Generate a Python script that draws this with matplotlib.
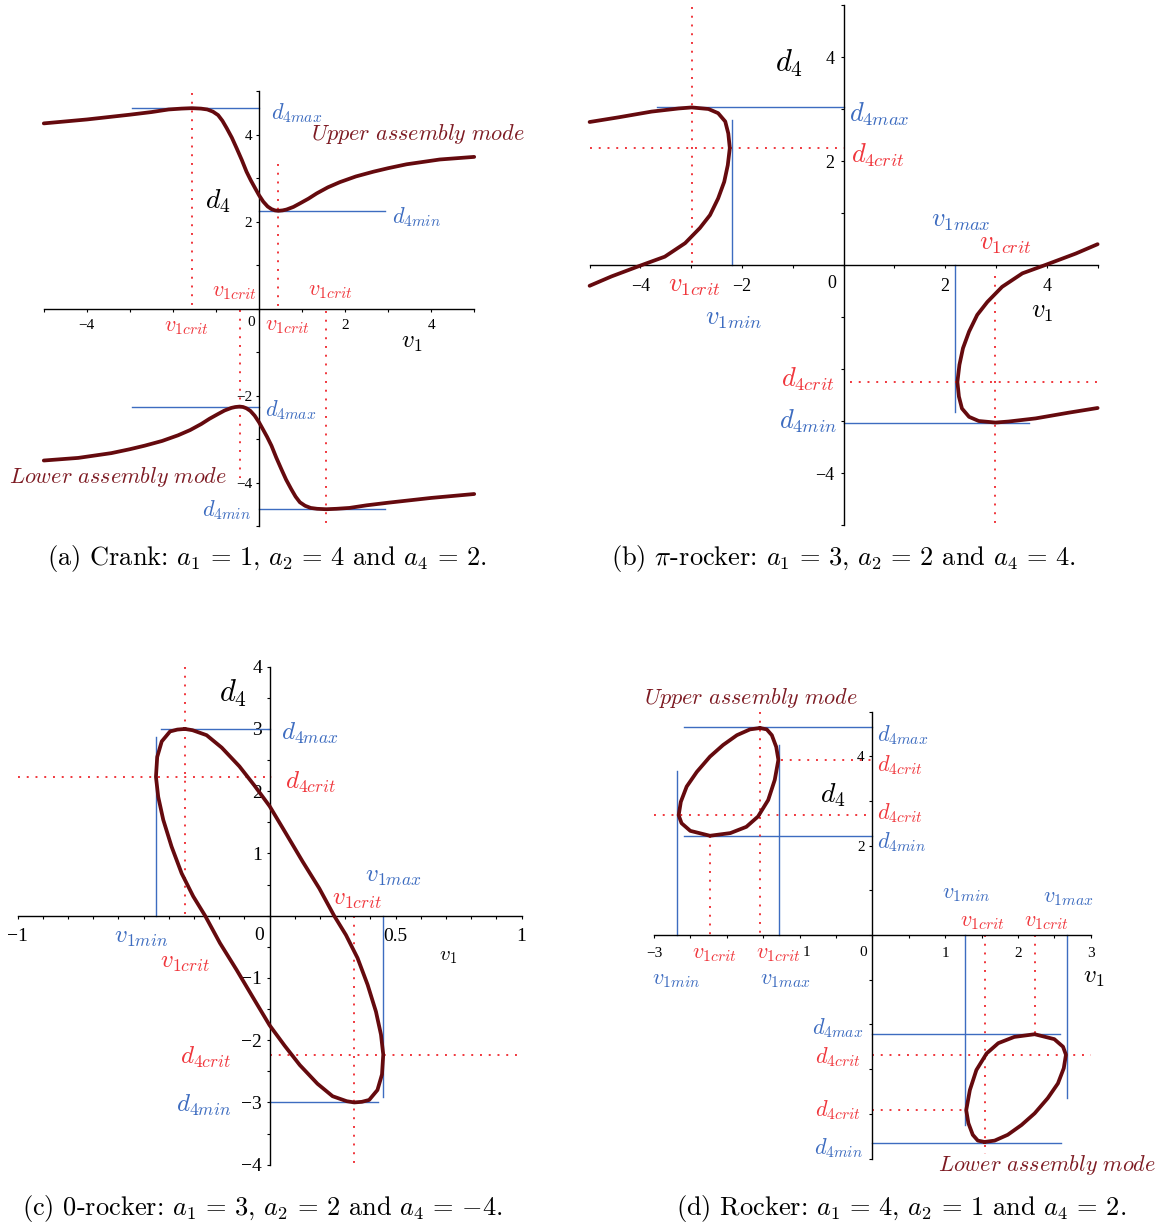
import matplotlib.pyplot as plt

plt.rcParams['mathtext.fontset'] = 'cm'
plt.rcParams['font.family'] = ['Liberation Serif', 'DejaVu Serif']

CURVE = '#650a0e'
MODE = '#7d1a22'
BLUE = '#3d6cc0'
RED = '#f0363c'
W, H = 1168, 1228

# ---- (a) crank: a1=1, a2=4, a4=2 ----
a_up_v = [-5, -4, -3, -2.5, -2.1, -1.8, -1.56, -1.35, -1.2, -1.07, -0.95, -0.85, -0.75, -0.63,
          -0.52, -0.4, -0.29, -0.19, -0.09, 0.0, 0.1, 0.2, 0.29, 0.37, 0.45, 0.55, 0.64, 0.8,
          0.95, 1.15, 1.34, 1.6, 1.88, 2.25, 2.66, 3.0, 3.43, 4.2, 5]
a_up_d = [4.26, 4.35, 4.46, 4.52, 4.58, 4.60, 4.61, 4.60, 4.58, 4.53, 4.45, 4.32, 4.15, 3.93,
          3.69, 3.42, 3.15, 2.95, 2.77, 2.61, 2.46, 2.35, 2.29, 2.26, 2.25, 2.26, 2.28, 2.34,
          2.42, 2.53, 2.65, 2.79, 2.91, 3.04, 3.15, 3.23, 3.32, 3.43, 3.49]
a_lo_v = [-5, -4.2, -3.43, -3.0, -2.66, -2.25, -1.88, -1.6, -1.34, -1.15, -0.95, -0.8, -0.64,
          -0.55, -0.45, -0.37, -0.29, -0.2, -0.1, 0.0, 0.09, 0.19, 0.29, 0.4, 0.52, 0.63, 0.75,
          0.85, 0.95, 1.07, 1.2, 1.35, 1.56, 1.8, 2.1, 2.5, 3, 4, 5]
a_lo_d = [-3.49, -3.43, -3.32, -3.23, -3.15, -3.04, -2.91, -2.79, -2.65, -2.53, -2.42, -2.34,
          -2.28, -2.26, -2.25, -2.26, -2.29, -2.35, -2.46, -2.61, -2.77, -2.95, -3.15, -3.42,
          -3.69, -3.93, -4.15, -4.32, -4.45, -4.53, -4.58, -4.60, -4.61, -4.60, -4.58, -4.52,
          -4.46, -4.35, -4.26]
# guide lines: (level, from, to)
a_dblue = [(4.61, -2.94, 0), (2.25, 0, 2.93), (-2.25, -2.94, 0), (-4.61, 0, 2.93)]
a_vred = [(-1.56, 4.95, 0), (0.45, 3.33, 0), (-0.45, -0.03, -3.9), (1.56, -0.05, -5)]

# ---- (b) pi-rocker: a1=3, a2=2, a4=4 ----
b_left_v = [-5.0, -4.43, -3.78, -3.25, -2.99, -2.66, -2.47, -2.33, -2.27, -2.24, -2.28, -2.35,
            -2.47, -2.63, -2.83, -3.12, -3.52, -3.97, -4.57, -5.0]
b_left_d = [2.75, 2.84, 2.95, 3.01, 3.03, 3.0, 2.92, 2.76, 2.53, 2.25, 1.92, 1.60, 1.28, 0.96,
            0.71, 0.42, 0.16, 0.0, -0.22, -0.40]
b_right_v = [5.0, 4.57, 3.97, 3.52, 3.12, 2.83, 2.63, 2.47, 2.35, 2.28, 2.24, 2.27, 2.33, 2.47,
             2.66, 2.99, 3.25, 3.78, 4.43, 5.0]
b_right_d = [0.40, 0.22, 0.0, -0.16, -0.42, -0.71, -0.96, -1.28, -1.60, -1.92, -2.25, -2.53,
             -2.76, -2.92, -3.0, -3.03, -3.01, -2.95, -2.84, -2.75]
b_dblue = [(3.04, -3.68, 0), (-3.04, 0, 3.64)]
b_vblue = [(-2.20, 2.79, 0), (2.20, 0, -2.82)]
b_dred = [(2.25, -5, 0), (-2.25, 0.13, 5)]
b_vred = [(-2.99, 4.97, 0), (2.99, -0.22, -5)]

# ---- (c) 0-rocker: a1=3, a2=2, a4=-4 ----
c_v = [-0.336, -0.306, -0.250, -0.190, -0.120, -0.060, 0.0, 0.065, 0.131, 0.197, 0.256, 0.303,
       0.349, 0.389, 0.422, 0.442, 0.451, 0.446, 0.428, 0.395, 0.366, 0.336, 0.306, 0.250, 0.190,
       0.120, 0.060, 0.0, -0.065, -0.131, -0.197, -0.256, -0.303, -0.349, -0.389, -0.422, -0.442,
       -0.451, -0.446, -0.428, -0.395, -0.366, -0.336]
c_d = [3.00, 2.98, 2.90, 2.70, 2.40, 2.09, 1.76, 1.32, 0.87, 0.44, 0.0, -0.31, -0.68, -1.11,
       -1.54, -1.91, -2.23, -2.55, -2.80, -2.96, -2.99, -3.00, -2.98, -2.90, -2.70, -2.40, -2.09,
       -1.76, -1.32, -0.87, -0.44, 0.0, 0.31, 0.68, 1.11, 1.54, 1.91, 2.23, 2.55, 2.80, 2.96,
       2.99, 3.00]
c_dblue = [(3.0, -0.43, 0), (-3.0, 0, 0.43)]
c_vblue = [(-0.451, 2.87, 0), (0.451, 0, -2.91)]
c_dred = [(2.23, -1, 0.01), (-2.23, 0, 1)]
c_vred = [(-0.336, 4, 0), (0.336, 0, -4)]

# ---- (d) rocker: a1=4, a2=1, a4=2 ----
d_up_v = [-1.543, -1.68, -1.86, -2.05, -2.23, -2.41, -2.55, -2.63, -2.66, -2.62, -2.50, -2.23,
          -1.95, -1.73, -1.57, -1.43, -1.34, -1.29, -1.32, -1.38, -1.45, -1.543]
d_up_d = [4.63, 4.60, 4.47, 4.25, 3.99, 3.65, 3.32, 2.98, 2.68, 2.50, 2.33, 2.22, 2.28, 2.42,
          2.65, 3.02, 3.47, 3.92, 4.21, 4.47, 4.60, 4.63]
d_lo_v = [1.543, 1.68, 1.86, 2.05, 2.23, 2.41, 2.55, 2.63, 2.66, 2.62, 2.50, 2.23, 1.95, 1.73,
          1.57, 1.43, 1.34, 1.29, 1.32, 1.38, 1.45, 1.543]
d_lo_d = [-4.63, -4.60, -4.47, -4.25, -3.99, -3.65, -3.32, -2.98, -2.68, -2.50, -2.33, -2.22,
          -2.28, -2.42, -2.65, -3.02, -3.47, -3.92, -4.21, -4.47, -4.60, -4.63]
d_dblue = [(4.65, -2.58, 0), (2.22, -2.58, 0), (-2.22, 0, 2.58), (-4.65, 0, 2.59)]
d_vblue = [(-2.68, 3.66, 0), (-1.28, 4.25, 0), (1.28, 0, -4.25), (2.68, 0, -3.64)]
d_dred = [(3.92, -1.25, 0), (2.68, -3, 0), (-2.68, 0, 3.0), (-3.92, 0, 1.28)]
d_vred = [(-1.543, 5, 0), (-2.23, 2.22, 0), (1.543, 0, -4.9), (2.23, 0, -2.22)]

fig = plt.figure(figsize=(W / 100, H / 100), dpi=100)


def panel(x0, x1, top, bottom, xlim, ylim):
    ax = fig.add_axes([x0 / W, 1 - bottom / H, (x1 - x0) / W, (bottom - top) / H])
    ax.set_xlim(*xlim)
    ax.set_ylim(*ylim)
    ax.patch.set_alpha(0)
    for s in ['top', 'right']:
        ax.spines[s].set_visible(False)
    for s in ['left', 'bottom']:
        ax.spines[s].set_position(('data', 0))
        ax.spines[s].set_linewidth(1.0)
    return ax


def ticks(ax, xt, xlab, yt, ylab, size, xpad, ypad):
    ax.set_xticks(xt, labels=[xlab.get(round(t, 2), '') for t in xt])
    ax.set_yticks(yt, labels=[ylab.get(round(t, 2), '') for t in yt])
    ax.tick_params(direction='out', length=2.5, width=0.8, labelsize=size)
    ax.tick_params(axis='x', pad=xpad)
    ax.tick_params(axis='y', pad=ypad)


def guides(ax, dblue=(), vblue=(), dred=(), vred=()):
    for y, a, b in dblue:
        ax.plot([a, b], [y, y], color=BLUE, lw=1.0, clip_on=False)
    for x, a, b in vblue:
        ax.plot([x, x], [a, b], color=BLUE, lw=1.0, clip_on=False)
    for y, a, b in dred:
        ax.plot([a, b], [y, y], color=RED, lw=1.4, ls=(0, (1, 3.5)), clip_on=False)
    for x, a, b in vred:
        ax.plot([x, x], [a, b], color=RED, lw=1.4, ls=(0, (1, 3.5)), clip_on=False)


def curve(ax, v, d):
    ax.plot(v, d, color=CURVE, lw=2.7, solid_joinstyle='round', solid_capstyle='round',
            zorder=4, clip_on=False)


def put(x, y, s, color='black', size=16, ha='center'):
    fig.text(x / W, 1 - y / H, s, color=color, fontsize=size, ha=ha, va='center')


def caption(x, y, s):
    fig.text(x / W, 1 - y / H, s, fontsize=19, ha='center', va='center', family='cmr10')


# (a)
ax = panel(43.8, 474.2, 91.2, 526.2, (-5, 5), (-5, 5))
ticks(ax, list(range(-5, 6)), {-4: '−4', 2: '2', 4: '4'},
      list(range(-5, 6)), {4: '4', 2: '2', -2: '−2', -4: '−4'}, 11, 5, 2.5)
guides(ax, dblue=a_dblue, vred=a_vred)
curve(ax, a_up_v, a_up_d)
curve(ax, a_lo_v, a_lo_d)
put(251, 323, '0', size=11)
put(297, 113, r'$d_{4max}$', BLUE)
put(417, 217, r'$d_{4min}$', BLUE)
put(291, 410, r'$d_{4max}$', BLUE)
put(227, 510, r'$d_{4min}$', BLUE)
put(186, 328, r'$v_{1crit}$', RED)
put(234, 293, r'$v_{1crit}$', RED)
put(287, 327, r'$v_{1crit}$', RED)
put(330, 292, r'$v_{1crit}$', RED)
put(218, 201, r'$d_4$', size=20)
put(412, 343, r'$v_1$', size=18)
put(418, 134, r'$\mathit{Upper\ assembly\ mode}$', MODE, 16)
put(118, 477, r'$\mathit{Lower\ assembly\ mode}$', MODE, 16)
caption(267, 559, r'(a) Crank: $a_1\,=\,1$, $a_2\,=\,4$ and $a_4\,=\,2$.')

# (b)
ax = panel(589.6, 1097.6, 5, 525, (-5, 5), (-5, 5))
ticks(ax, list(range(-5, 6)), {-4: '−4', -2: '−2', 2: '2', 4: '4'},
      list(range(-5, 6)), {4: '4', 2: '2', -4: '−4'}, 13, 7, 4)
guides(ax, b_dblue, b_vblue, b_dred, b_vred)
curve(ax, b_left_v, b_left_d)
curve(ax, b_right_v, b_right_d)
put(832, 283, '0', size=13)
put(879, 114, r'$d_{4max}$', BLUE, 19)
put(878, 155, r'$d_{4crit}$', RED, 19)
put(961, 222, r'$v_{1max}$', BLUE, 19)
put(1005, 245, r'$v_{1crit}$', RED, 19)
put(694, 287, r'$v_{1crit}$', RED, 19)
put(734, 320, r'$v_{1min}$', BLUE, 19)
put(808, 379, r'$d_{4crit}$', RED, 19)
put(808, 421, r'$d_{4min}$', BLUE, 19)
put(789, 63, r'$d_4$', size=22)
put(1042, 313, r'$v_1$', size=19)
caption(843, 559, r'(b) $\pi$-rocker: $a_1\,=\,3$, $a_2\,=\,2$ and $a_4\,=\,4$.')

# (c)
ax = panel(17.6, 521.6, 666.7, 1164.7, (-1, 1), (-4, 4))
ticks(ax, [i / 10 for i in range(-10, 11)], {-1.0: '−1', 0.5: '0.5', 1.0: '1'},
      [i / 2 for i in range(-8, 9)],
      {4.0: '4', 3.0: '3', 2.0: '2', 1.0: '1', -1.0: '−1', -2.0: '−2', -3.0: '−3', -4.0: '−4'},
      14, 6, 3)
guides(ax, c_dblue, c_vblue, c_dred, c_vred)
curve(ax, c_v, c_d)
put(259, 935, '0', size=14)
put(310, 733, r'$d_{4max}$', BLUE, 18)
put(310, 782, r'$d_{4crit}$', RED, 18)
put(393, 877, r'$v_{1max}$', BLUE, 18)
put(357, 900, r'$v_{1crit}$', RED, 18)
put(141, 938, r'$v_{1min}$', BLUE, 18)
put(185, 963, r'$v_{1crit}$', RED, 18)
put(205, 1057, r'$d_{4crit}$', RED, 18)
put(204, 1105, r'$d_{4min}$', BLUE, 18)
put(233, 693, r'$d_4$', size=22)
put(448, 957, r'$v_1$', size=15)
caption(262, 1208, r'(c) 0-rocker: $a_1\,=\,3$, $a_2\,=\,2$ and $a_4\,=\,{-4}$.')

# (d)
ax = panel(653.9, 1090.7, 711.5, 1158.5, (-3, 3), (-5, 5))
ticks(ax, [i / 2 for i in range(-6, 7)], {-3.0: '−3', 1.0: '1', 2.0: '2', 3.0: '3'},
      list(range(-5, 6)), {4: '4', 2: '2'}, 11, 6, 3)
guides(ax, d_dblue, d_vblue, d_dred, d_vred)
curve(ax, d_up_v, d_up_d)
curve(ax, d_lo_v, d_lo_d)
put(863, 952, '0', size=11)
put(806, 952, '1', size=11)
put(751, 698, r'$\mathit{Upper\ assembly\ mode}$', MODE, 16)
put(1047, 1165, r'$\mathit{Lower\ assembly\ mode}$', MODE, 16)
put(903, 735, r'$d_{4max}$', BLUE)
put(900, 765, r'$d_{4crit}$', RED)
put(900, 813, r'$d_{4crit}$', RED)
put(902, 842, r'$d_{4min}$', BLUE)
put(966, 895, r'$v_{1min}$', BLUE)
put(1068, 898, r'$v_{1max}$', BLUE)
put(982, 922, r'$v_{1crit}$', RED)
put(1046, 922, r'$v_{1crit}$', RED)
put(714, 955, r'$v_{1crit}$', RED)
put(778, 955, r'$v_{1crit}$', RED)
put(676, 980, r'$v_{1min}$', BLUE)
put(785, 980, r'$v_{1max}$', BLUE)
put(838, 1028, r'$d_{4max}$', BLUE)
put(838, 1057, r'$d_{4crit}$', RED)
put(838, 1110, r'$d_{4crit}$', RED)
put(839, 1148, r'$d_{4min}$', BLUE)
put(833, 795, r'$d_4$', size=20)
put(1094, 978, r'$v_1$', size=18)
caption(901, 1208, r'(d) Rocker: $a_1\,=\,4$, $a_2\,=\,1$ and $a_4\,=\,2$.')

fig.savefig('out.png', dpi=100)
